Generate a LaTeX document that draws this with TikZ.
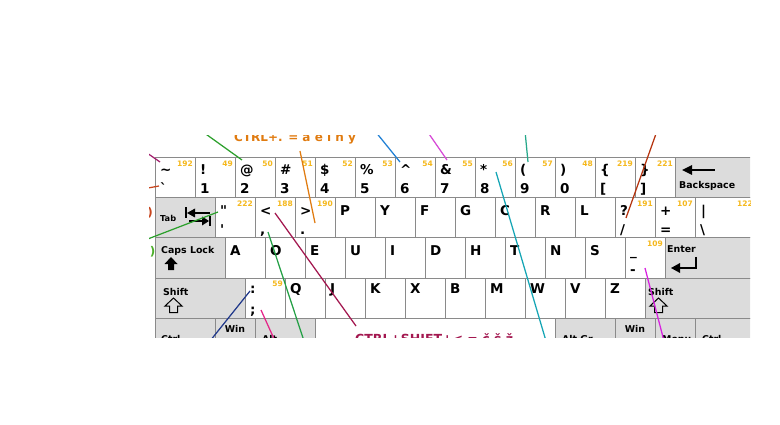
\documentclass[tikz,border=0pt]{standalone}
\usepackage{fontspec}
\setmainfont{DejaVu Sans}
\usetikzlibrary{positioning,calc}
\definecolor{kbEdge}{HTML}{8A8A8A}
\definecolor{kbMod}{HTML}{DCDCDC}
\definecolor{kbCode}{HTML}{F5B81C}
\definecolor{lnPurple}{HTML}{A3206E}
\definecolor{lnRust}{HTML}{C8461E}
\definecolor{lnGreen}{HTML}{2CA02C}
\definecolor{lnOrange}{HTML}{E07B10}
\definecolor{lnCrimson}{HTML}{A3174F}
\definecolor{lnGreenB}{HTML}{24A046}
\definecolor{lnNavy}{HTML}{233B8C}
\definecolor{lnPink}{HTML}{E52589}
\definecolor{lnBlue}{HTML}{1F7FD4}
\definecolor{lnOrchid}{HTML}{D64AD6}
\definecolor{lnJade}{HTML}{26A88A}
\definecolor{lnCyan}{HTML}{14A5B5}
\definecolor{lnBrick}{HTML}{B5340F}
\definecolor{lnViolet}{HTML}{D820E0}
\definecolor{lnLime}{HTML}{4CAF2A}

\begin{document}
\begin{tikzpicture}[x=1pt,y=-1pt,font=\bfseries,
   keycap/.style={draw=kbEdge,line width=1pt,fill=white,minimum width=#1,
                  minimum height=40pt,inner sep=0pt,outer sep=0pt,anchor=north west},
   keycap/.default=40pt,
   modcap/.style={keycap=#1,fill=kbMod},
   modcap/.default=40pt,
   glyph/.style={font=\fontsize{13.5}{13.5}\selectfont\bfseries,anchor=base west,inner sep=0pt},
   keycode/.style={font=\fontsize{7.5}{7.5}\selectfont\bfseries,text=kbCode,
                   anchor=north east,inner sep=0pt},
   modtext/.style={font=\fontsize{9.4}{9.4}\selectfont\bfseries,anchor=base west,inner sep=0pt},
   note/.style={font=\fontsize{12}{12}\selectfont\bfseries,anchor=base west,inner sep=0pt},
   leader/.style={line width=1.25pt}]
  \useasboundingbox (0,0) rectangle (780,425);
  \begin{scope}
  \clip (149,135.5) rectangle (750,337);

  % number row
  \foreach \up/\lo/\code [count=\i from 0] in {\textasciitilde/\textasciigrave/192,
      !/1/49, @/2/50, \#/3/51, \$/4/52, \%/5/53, \textasciicircum/6/54, \&/7/55,
      */8/56, {(}/9/57, {)}/0/48, \{/{[}/219, \}/{]}/221}{
    \node[keycap] (r1k\i) at ({155+40*\i},158) {};
    \node[glyph] (r1u\i) at ($(r1k\i.north west)+(5,17)$) {\up};
    \node[glyph] (r1l\i) at ($(r1k\i.north west)+(5,36)$) {\lo};
    \node[keycode] (r1c\i) at ($(r1k\i.north east)+(-2,3)$) {\code};
  }
  \node[modcap=80pt,right=0pt of r1k12] (bksp) {};

  % upper letter row
  \node[modcap=60pt] (tab) at (155,198) {};
  \foreach \up/\lo/\code [count=\i from 0] in {\textquotedbl/\textquotesingle/222,
      </{,}/188, >/./190, P//, Y//, F//, G//, C//, R//, L//, ?/\slash/191, +/=/107}{
    \node[keycap] (r2k\i) at ({215+40*\i},198) {};
    \node[glyph] (r2u\i) at ($(r2k\i.north west)+(5,17)$) {\up};
    \node[glyph] (r2l\i) at ($(r2k\i.north west)+(5,36)$) {\lo};
    \node[keycode] (r2c\i) at ($(r2k\i.north east)+(-2,3)$) {\code};
  }
  \node[keycap=60pt,right=0pt of r2k11] (bslash) {};
  \node[glyph] (bslashu) at ($(bslash.north west)+(6,17)$) {|};
  \node[glyph] (bslashl) at ($(bslash.north west)+(5,36)$) {\textbackslash};
  \node[keycode] (bslashc) at ($(bslash.north east)+(-2,3)$) {122};

  % home row
  \node[modcap=70pt] (caps) at (155,238) {};
  \foreach \up/\lo/\code [count=\i from 0] in {A//, O//, E//, U//, I//, D//, H//,
      T//, N//, S//, \_/-/109}{
    \node[keycap] (r3k\i) at ({225+40*\i},238) {};
    \node[glyph] (r3u\i) at ($(r3k\i.north west)+(5,17)$) {\up};
    \node[glyph] (r3l\i) at ($(r3k\i.north west)+(5,36)$) {\lo};
    \node[keycode] (r3c\i) at ($(r3k\i.north east)+(-2,3)$) {\code};
  }
  \node[modcap=90pt,right=0pt of r3k10] (enter) {};

  % lower letter row
  \node[modcap=90pt] (lshift) at (155,278) {};
  \foreach \up/\lo/\code [count=\i from 0] in {:/;/59, Q//, J//, K//, X//, B//,
      M//, W//, V//, Z//}{
    \node[keycap] (r4k\i) at ({245+40*\i},278) {};
    \node[glyph] (r4u\i) at ($(r4k\i.north west)+(5,15)$) {\up};
    \node[glyph] (r4l\i) at ($(r4k\i.north west)+(5,36)$) {\lo};
    \node[keycode] (r4c\i) at ($(r4k\i.north east)+(-2,3)$) {\code};
  }
  \node[modcap=110pt,right=0pt of r4k9] (rshift) {};

  % bottom row
  \node[modcap=60pt] (lctrl) at (155,318) {};
  \node[modcap=40pt,right=0pt of lctrl] (lwin) {};
  \node[modcap=60pt,right=0pt of lwin] (lalt) {};
  \node[keycap=240pt,right=0pt of lalt] (space) {};
  \node[modcap=60pt,right=0pt of space] (altgr) {};
  \node[modcap=40pt,right=0pt of altgr] (rwin) {};
  \node[modcap=40pt,right=0pt of rwin] (menu) {};
  \node[modcap=60pt,right=0pt of menu] (rctrl) {};

  % modifier captions
  \node[modtext,font=\fontsize{8.2}{8.2}\selectfont\bfseries] (tabtxt)
    at ($(tab.north west)+(5,24)$) {Tab};
  \node[modtext] (capstxt) at ($(caps.north west)+(6,16)$) {Caps Lock};
  \node[modtext] (lshifttxt) at ($(lshift.north west)+(8,17)$) {Shift};
  \node[modtext] (rshifttxt) at ($(rshift.north west)+(3,17)$) {Shift};
  \node[modtext] (entertxt) at ($(enter.north west)+(2,14)$) {Enter};
  \node[modtext] (bksptxt) at ($(bksp.north west)+(4,31)$) {Backspace};
  \node[modtext] (lctrltxt) at ($(lctrl.north west)+(6,24)$) {Ctrl};
  \node[modtext,anchor=base] (lwintxt) at ($(lwin.north)+(0,14)$) {Win};
  \node[modtext] (lalttxt) at ($(lalt.north west)+(7,24)$) {Alt};
  \node[modtext] (altgrtxt) at ($(altgr.north west)+(7,24)$) {Alt Gr};
  \node[modtext,anchor=base] (rwintxt) at ($(rwin.north)+(0,14)$) {Win};
  \node[modtext] (menutxt) at ($(menu.north west)+(7,24)$) {Menu};
  \node[modtext] (rctrltxt) at ($(rctrl.north west)+(7,24)$) {Ctrl};

  % key icons
  \fill (185,207) rectangle (187,218);
  \fill (187,213) -- (195,208.5) -- (195,217.5) -- cycle;
  \fill (194,211.9) rectangle (210,214.1);
  \fill (189,219.9) rectangle (203,222.1);
  \fill (209,221) -- (202,216.5) -- (202,225.5) -- cycle;
  \fill (209,216) rectangle (211,226);
  \fill (171,257) -- (177.5,264) -- (174,264) -- (174,270) -- (168,270)
        -- (168,264) -- (164.5,264) -- cycle;
  \foreach \dx in {0,485}
    \draw[line width=1pt,xshift=\dx] (173.5,298) -- (182,306) -- (177.5,306)
        -- (177.5,312.5) -- (169.5,312.5) -- (169.5,306) -- (165,306) -- cycle;
  \draw[line width=2pt] (696,257) -- (696,268) -- (679,268);
  \fill (671,268) -- (680,263) -- (680,273) -- cycle;
  \fill (682,170) -- (692,165) -- (692,175) -- cycle;
  \fill (691,168.9) rectangle (715,171.1);

  % notes cut by the frame
  \node[note,text=lnOrange] (dotnote) at (234,142) {CTRL+. = ȧ ė i ṅ ẏ};
  \node[note,text=lnCrimson,font=\fontsize{12.5}{12.5}\selectfont\bfseries]
    (caronnote) at (355,343) {CTRL+SHIFT+< = č š ž};
  \node[note,text=lnRust,anchor=east] (rustparen) at (153,213) {)};
  \node[note,text=lnLime,anchor=east] (limeparen) at (155.5,252) {)};

  % leader lines
  \coordinate (tildeFar) at (137,146);   \coordinate (tildeTip) at (160,162);
  \coordinate (graveFar) at (140,189.5); \coordinate (graveTip) at (159,186);
  \coordinate (quoteFar) at (140,242);   \coordinate (quoteTip) at (218,212);
  \coordinate (atFar) at (203,132);      \coordinate (atTip) at (242,160);
  \coordinate (periodFar) at (300,151);  \coordinate (periodTip) at (315,223);
  \coordinate (lessTip) at (275,213);    \coordinate (caronEnd) at (356,326);
  \coordinate (commaTip) at (268,232);   \coordinate (commaFar) at (304,341);
  \coordinate (semiTip) at (250,291);    \coordinate (semiFar) at (210,341);
  \coordinate (colonTip) at (261,310);   \coordinate (colonFar) at (275,341);
  \coordinate (caretFar) at (375,131);   \coordinate (caretTip) at (400,162);
  \coordinate (ampFar) at (427,131);     \coordinate (ampTip) at (447,160);
  \coordinate (parenFar) at (525,131);   \coordinate (parenTip) at (528,162);
  \coordinate (starTip) at (496,172);    \coordinate (starFar) at (546,341);
  \coordinate (slashFar) at (657,131);   \coordinate (slashTip) at (626,218);
  \coordinate (minusTip) at (645,268);   \coordinate (minusFar) at (664,341);
  \draw[leader,lnPurple] (tildeFar) -- (tildeTip);
  \draw[leader,lnRust] (graveFar) -- (graveTip);
  \draw[leader,lnGreen] (quoteFar) -- (quoteTip);
  \draw[leader,lnGreen] (atFar) -- (atTip);
  \draw[leader,lnOrange] (periodFar) -- (periodTip);
  \draw[leader,lnCrimson] (lessTip) -- (caronEnd);
  \draw[leader,lnGreenB] (commaTip) -- (commaFar);
  \draw[leader,lnNavy] (semiTip) -- (semiFar);
  \draw[leader,lnPink] (colonTip) -- (colonFar);
  \draw[leader,lnBlue] (caretFar) -- (caretTip);
  \draw[leader,lnOrchid] (ampFar) -- (ampTip);
  \draw[leader,lnJade] (parenFar) -- (parenTip);
  \draw[leader,lnCyan] (starTip) -- (starFar);
  \draw[leader,lnBrick] (slashFar) -- (slashTip);
  \draw[leader,lnViolet] (minusTip) -- (minusFar);
  \end{scope}
\end{tikzpicture}
\end{document}
